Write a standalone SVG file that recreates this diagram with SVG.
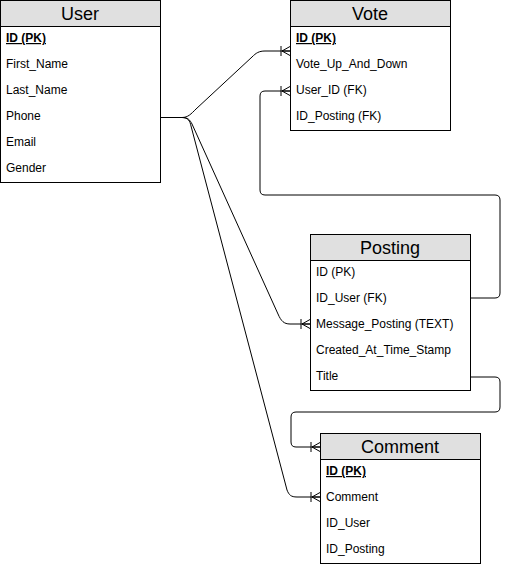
<svg xmlns="http://www.w3.org/2000/svg" width="509" height="567" viewBox="0 0 509 567">
<style>
.box{fill:#ffffff;stroke:#000000;stroke-width:1}
.hdr{fill:#e0e0e0;stroke:#000000;stroke-width:1}
.title{font-family:"Liberation Sans",Arial,sans-serif;font-size:18px;fill:#000000;text-anchor:middle}
.row{font-family:"Liberation Sans",Arial,sans-serif;font-size:12px;fill:#000000}
.pk{font-weight:bold;text-decoration:underline}
.edge{fill:none;stroke:#000000;stroke-width:1;marker-end:url(#many)}
</style>
<defs>
<marker id="many" markerUnits="userSpaceOnUse" markerWidth="14" markerHeight="14" viewBox="-12 -7 14 14" refX="0" refY="0" orient="auto" overflow="visible">
<path d="M-8,0 L0,-4.5 M-8,0 L0,4.5 M-8,0 L0,0 M-9,-5 L-9,5" fill="none" stroke="#000000" stroke-width="1"/>
</marker>
</defs>
<rect x="0" y="0" width="509" height="567" fill="#ffffff"/>
<g id="connectors">
<path class="edge" d="M160.5,117.5 H182 C188,117.5 191,114 196,109 L252,57 C256,53 259,51 265,51 H290"/>
<path class="edge" d="M160.5,117.5 H182 C188,117.5 190,120 192,124 L278,314 C281,321 284,324 290,324 H310"/>
<path class="edge" d="M160.5,117.5 H182 C188,117.5 190,121 191,126 L287,490 C289,495 291,497 297,497 H320"/>
<path class="edge" d="M470,298 H495 Q500,298 500,293 V200 Q500,195 495,195 H265 Q260,195 260,190 V96 Q260,91 265,91 H290"/>
<path class="edge" d="M470,377 H495 Q500,377 500,382 V407 Q500,412 495,412 H296 Q291,412 291,417 V442 Q291,447 296,447 H320"/>
</g>
<g id="User">
<rect class="box" x="0.5" y="0.5" width="160" height="182"/>
<rect class="hdr" x="0.5" y="0.5" width="160" height="26"/>
<text class="title" x="80" y="20">User</text>
<text class="row pk" x="6" y="42">ID (PK)</text>
<text class="row" x="6" y="68">First_Name</text>
<text class="row" x="6" y="94">Last_Name</text>
<text class="row" x="6" y="120">Phone</text>
<text class="row" x="6" y="146">Email</text>
<text class="row" x="6" y="172">Gender</text>
</g>
<g id="Vote">
<rect class="box" x="290.5" y="0.5" width="160" height="130"/>
<rect class="hdr" x="290.5" y="0.5" width="160" height="26"/>
<text class="title" x="370" y="20">Vote</text>
<text class="row pk" x="296" y="42">ID (PK)</text>
<text class="row" x="296" y="68">Vote_Up_And_Down</text>
<text class="row" x="296" y="94">User_ID (FK)</text>
<text class="row" x="296" y="120">ID_Posting (FK)</text>
</g>
<g id="Posting">
<rect class="box" x="310.5" y="234.5" width="160" height="156"/>
<rect class="hdr" x="310.5" y="234.5" width="160" height="26"/>
<text class="title" x="390" y="254">Posting</text>
<text class="row" x="316" y="276">ID (PK)</text>
<text class="row" x="316" y="302">ID_User (FK)</text>
<text class="row" x="316" y="328">Message_Posting (TEXT)</text>
<text class="row" x="316" y="354">Created_At_Time_Stamp</text>
<text class="row" x="316" y="380">Title</text>
</g>
<g id="Comment">
<rect class="box" x="320.5" y="433.5" width="160" height="130"/>
<rect class="hdr" x="320.5" y="433.5" width="160" height="26"/>
<text class="title" x="400" y="453">Comment</text>
<text class="row pk" x="326" y="475">ID (PK)</text>
<text class="row" x="326" y="501">Comment</text>
<text class="row" x="326" y="527">ID_User</text>
<text class="row" x="326" y="553">ID_Posting</text>
</g>
</svg>
